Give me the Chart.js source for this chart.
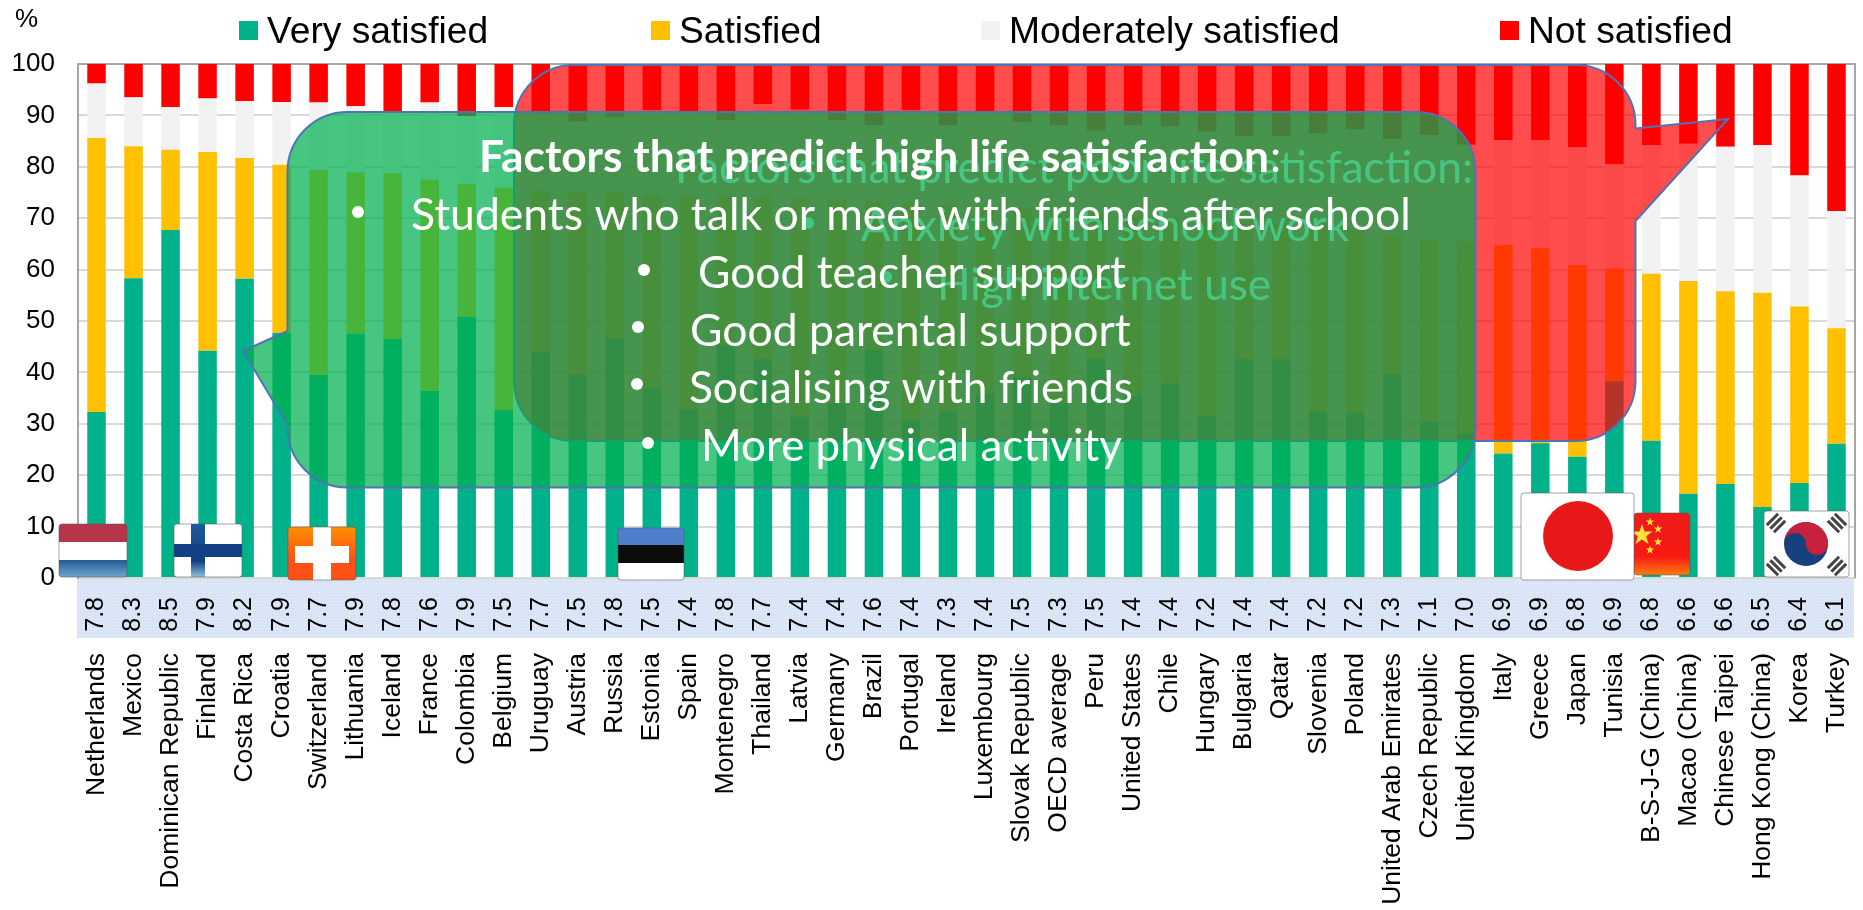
<!DOCTYPE html>
<html>
<head>
<meta charset="utf-8">
<title>Life satisfaction</title>
<script src="https://cdn.jsdelivr.net/npm/chart.js@4/dist/chart.umd.min.js"></script>
<style>
  html, body { margin: 0; padding: 0; background: #fff; }
  canvas { display: block; }
</style>
</head>
<body>
<canvas id="lifeChart" width="1863" height="910"></canvas>
<script>
// Data
const countries = ['Netherlands','Mexico','Dominican Republic','Finland','Costa Rica','Croatia','Switzerland','Lithuania','Iceland','France','Colombia','Belgium','Uruguay','Austria','Russia','Estonia','Spain','Montenegro','Thailand','Latvia','Germany','Brazil','Portugal','Ireland','Luxembourg','Slovak Republic','OECD average','Peru','United States','Chile','Hungary','Bulgaria','Qatar','Slovenia','Poland','United Arab Emirates','Czech Republic','United Kingdom','Italy','Greece','Japan','Tunisia','B-S-J-G (China)','Macao (China)','Chinese Taipei','Hong Kong (China)','Korea','Turkey'];
const lifeScores = ['7.8','8.3','8.5','7.9','8.2','7.9','7.7','7.9','7.8','7.6','7.9','7.5','7.7','7.5','7.8','7.5','7.4','7.8','7.7','7.4','7.4','7.6','7.4','7.3','7.4','7.5','7.3','7.5','7.4','7.4','7.2','7.4','7.4','7.2','7.2','7.3','7.1','7.0','6.9','6.9','6.8','6.9','6.8','6.6','6.6','6.5','6.4','6.1'];
const verySatisfied = [32.3,58.3,67.7,44.2,58.2,47.7,39.5,47.5,46.5,36.4,50.8,32.7,44.0,39.6,46.6,36.9,32.8,45.3,42.6,31.4,34.0,44.4,30.7,32.4,35.9,39.2,34.0,42.6,35.6,37.9,31.5,42.6,42.5,32.4,32.2,39.6,30.5,28.1,24.2,26.2,23.6,38.3,26.7,16.4,18.3,13.8,18.5,26.1];
const satisfied = [53.3,25.7,15.6,38.7,23.5,32.7,39.9,31.4,32.3,41.1,25.9,43.2,31.4,35.6,28.4,37.6,41.4,28.9,31.5,42.5,39.5,28.8,42.2,40.2,36.4,32.8,37.5,28.4,35.0,32.3,38.5,26.9,26.5,36.1,35.8,27.1,35.3,37.4,40.6,38.0,37.3,21.9,32.5,41.4,37.5,41.7,34.3,22.5];
const moderatelySatisfied = [10.6,9.5,8.3,10.4,11.1,12.2,13.1,12.9,12.0,15.0,13.2,15.7,14.9,13.6,14.7,16.5,16.6,14.8,18.1,17.2,15.5,14.9,18.1,15.5,18.4,16.6,16.6,16.0,17.5,17.7,16.8,16.5,17.0,18.0,19.3,18.7,20.4,18.8,20.4,21.0,22.9,20.3,25.0,26.7,28.1,28.7,25.5,22.8];
const notSatisfied = [3.8,6.5,8.4,6.7,7.2,7.4,7.5,8.2,9.2,7.5,10.1,8.4,9.7,11.2,10.3,9.0,9.2,11.0,7.8,8.9,11.0,11.9,9.0,11.9,9.3,11.4,11.9,13.0,11.9,12.1,13.2,14.0,14.0,13.5,12.7,14.6,13.8,15.7,14.8,14.8,16.2,19.5,15.8,15.5,16.1,15.8,21.7,28.6];

const seriesNames = ['Very satisfied','Satisfied','Moderately satisfied','Not satisfied'];
const seriesColors = ['#00b189','#ffc000','#f2f2f2','#ff0000'];
const legendX = [239,651,981,1500];

const FONT = '"Liberation Sans", Arial, sans-serif';
const NOTE_FONT = 'Lato, sans-serif';

const poorTitle = 'Factors that predict poor life satisfaction:';
const poorItems = ['Anxiety with school work','High internet use'];
const highTitle = 'Factors that predict high life satisfaction';
const highItems = ['Students who talk or meet with friends after school','Good teacher support','Good parental support','Socialising with friends','More physical activity'];

// box with rounded corners and a pointer on one side
function calloutPath(ctx, b) {
  const r = b.r;
  ctx.beginPath();
  ctx.moveTo(b.left + r, b.top);
  ctx.lineTo(b.right - r, b.top);
  ctx.arcTo(b.right, b.top, b.right, b.top + r, r);
  if (b.side === 'right') {
    ctx.lineTo(b.right, b.y1);
    ctx.lineTo(b.tipX, b.tipY);
    ctx.lineTo(b.right, b.y2);
  }
  ctx.lineTo(b.right, b.bottom - r);
  ctx.arcTo(b.right, b.bottom, b.right - r, b.bottom, r);
  ctx.lineTo(b.left + r, b.bottom);
  ctx.arcTo(b.left, b.bottom, b.left, b.bottom - r, r);
  if (b.side === 'left') {
    ctx.lineTo(b.left, b.y2);
    ctx.lineTo(b.tipX, b.tipY);
    ctx.lineTo(b.left, b.y1);
  }
  ctx.lineTo(b.left, b.top + r);
  ctx.arcTo(b.left, b.top, b.left + r, b.top, r);
  ctx.closePath();
}

function drawCallout(ctx, b, fill) {
  calloutPath(ctx, b);
  ctx.fillStyle = fill;
  ctx.fill();
  ctx.lineWidth = 2;
  ctx.strokeStyle = '#4f74b5';
  ctx.stroke();
}

function noteLine(ctx, text, x, y, width, font) {
  ctx.font = font;
  ctx.fillStyle = '#fff';
  ctx.textAlign = 'left';
  ctx.textBaseline = 'alphabetic';
  ctx.fillText(text, x, y, width);
}

function bullet(ctx, x, y) {
  ctx.beginPath();
  ctx.arc(x, y, 6, 0, Math.PI * 2);
  ctx.fillStyle = '#fff';
  ctx.fill();
}

function flagFrame(ctx, x, y, w, h, paint) {
  ctx.save();
  ctx.beginPath();
  ctx.roundRect(x, y, w, h, 3);
  ctx.clip();
  paint();
  ctx.restore();
  ctx.beginPath();
  ctx.roundRect(x, y, w, h, 3);
  ctx.lineWidth = 1;
  ctx.strokeStyle = 'rgba(90,90,90,0.55)';
  ctx.stroke();
}

function star(ctx, cx, cy, r) {
  ctx.beginPath();
  for (let i = 0; i < 10; i++) {
    const a = -Math.PI / 2 + i * Math.PI / 5;
    const d = i % 2 ? r * 0.4 : r;
    ctx.lineTo(cx + d * Math.cos(a), cy + d * Math.sin(a));
  }
  ctx.closePath();
  ctx.fillStyle = '#ffe23a';
  ctx.fill();
}

function trigram(ctx, cx, cy, angle) {
  ctx.save();
  ctx.translate(cx, cy);
  ctx.rotate(angle);
  ctx.fillStyle = '#444';
  [-5, 0, 5].forEach((o) => ctx.fillRect(-8, o - 1.5, 16, 3));
  ctx.restore();
}

function drawFlags(ctx) {
  // Netherlands
  flagFrame(ctx, 59, 524, 68, 53, () => {
    ctx.fillStyle = '#b5364a'; ctx.fillRect(59, 524, 68, 18);
    ctx.fillStyle = '#fff'; ctx.fillRect(59, 542, 68, 18);
    const g = ctx.createLinearGradient(0, 560, 0, 577);
    g.addColorStop(0, '#245a96'); g.addColorStop(1, '#6ea6cc');
    ctx.fillStyle = g; ctx.fillRect(59, 560, 68, 17);
  });
  // Finland
  flagFrame(ctx, 174, 524, 68, 53, () => {
    ctx.fillStyle = '#fff'; ctx.fillRect(174, 524, 68, 53);
    const g = ctx.createLinearGradient(0, 524, 0, 577);
    g.addColorStop(0, '#1f5a9a'); g.addColorStop(0.7, '#123f85'); g.addColorStop(1, '#8fc0d8');
    ctx.fillStyle = g; ctx.fillRect(191, 524, 14, 53);
    ctx.fillStyle = '#123f85'; ctx.fillRect(174, 544, 68, 13);
  });
  // Switzerland
  flagFrame(ctx, 288, 527, 68, 53, () => {
    const g = ctx.createLinearGradient(0, 527, 0, 560);
    g.addColorStop(0, '#ff8f00'); g.addColorStop(1, '#ff5015');
    ctx.fillStyle = g; ctx.fillRect(288, 527, 68, 53);
    ctx.fillStyle = '#fff';
    ctx.fillRect(313, 527, 18, 53);
    ctx.fillRect(295, 546, 54, 17);
  });
  // Estonia
  flagFrame(ctx, 618, 528, 66, 52, () => {
    ctx.fillStyle = '#4f7fcc'; ctx.fillRect(618, 528, 66, 17);
    ctx.fillStyle = '#0c0c0c'; ctx.fillRect(618, 545, 66, 18);
    ctx.fillStyle = '#fff'; ctx.fillRect(618, 563, 66, 17);
  });
  // China sits behind Japan
  flagFrame(ctx, 1634, 513, 56, 62, () => {
    const g = ctx.createLinearGradient(0, 513, 0, 575);
    g.addColorStop(0, '#ee1c1c'); g.addColorStop(0.7, '#f81a12'); g.addColorStop(1, '#ff7a10');
    ctx.fillStyle = g; ctx.fillRect(1634, 513, 56, 62);
    star(ctx, 1642, 535, 11);
    star(ctx, 1650, 522, 4.5);
    star(ctx, 1658, 529, 4.5);
    star(ctx, 1658, 542, 4.5);
    star(ctx, 1650, 550, 4.5);
  });
  // Japan
  flagFrame(ctx, 1521, 493, 113, 87, () => {
    ctx.fillStyle = '#fff'; ctx.fillRect(1521, 493, 113, 87);
    ctx.beginPath();
    ctx.arc(1578, 536, 35, 0, Math.PI * 2);
    ctx.fillStyle = '#e81818';
    ctx.fill();
  });
  // Korea
  flagFrame(ctx, 1764, 511, 85, 66, () => {
    ctx.fillStyle = '#fff'; ctx.fillRect(1764, 511, 85, 66);
    const cx = 1806, cy = 544, r = 22;
    ctx.beginPath(); ctx.arc(cx, cy, r, 0, Math.PI * 2);
    ctx.fillStyle = '#17407f'; ctx.fill();
    ctx.beginPath(); ctx.arc(cx, cy, r, Math.PI, 0);
    ctx.arc(cx + r / 2, cy, r / 2, 0, Math.PI, false);
    ctx.arc(cx - r / 2, cy, r / 2, 0, Math.PI, true);
    ctx.fillStyle = '#c8203f'; ctx.fill();
    trigram(ctx, 1776, 523, -Math.PI / 4);
    trigram(ctx, 1837, 523, Math.PI / 4);
    trigram(ctx, 1776, 566, Math.PI / 4);
    trigram(ctx, 1837, 566, -Math.PI / 4);
  });
}

// the light stipple of the score band
function bandPattern(ctx) {
  const tile = document.createElement('canvas');
  tile.width = 3;
  tile.height = 3;
  const t = tile.getContext('2d');
  t.fillStyle = '#d8e4f5';
  t.fillRect(0, 0, 3, 3);
  t.fillStyle = '#eaf0fa';
  t.fillRect(1, 1, 1, 1);
  return ctx.createPattern(tile, 'repeat');
}

// score band under the axis, and the frame on top and right
const bandPlugin = {
  id: 'band',
  beforeDraw(chart) {
    const { ctx, scales } = chart;
    ctx.fillStyle = bandPattern(ctx);
    ctx.fillRect(scales.x.left - 1, scales.y.bottom + 1, scales.x.width, 59);
  },
  beforeDatasetsDraw(chart) {
    const { ctx, chartArea: a } = chart;
    ctx.strokeStyle = '#a6a6a6';
    ctx.lineWidth = 2;
    ctx.beginPath();
    ctx.moveTo(a.left, a.top);
    ctx.lineTo(a.right, a.top);
    ctx.lineTo(a.right, a.bottom);
    ctx.stroke();
  },
};

// legend has uneven spacing in the original so it is drawn by hand
const headerPlugin = {
  id: 'header',
  afterDraw(chart) {
    const { ctx } = chart;
    ctx.save();
    ctx.textAlign = 'left';
    ctx.textBaseline = 'alphabetic';
    ctx.fillStyle = '#000';
    ctx.font = '26px ' + FONT;
    ctx.fillText('%', 15, 27);
    chart.data.datasets.forEach((ds, i) => {
      ctx.fillStyle = ds.backgroundColor;
      ctx.fillRect(legendX[i], 21, 19, 19);
      ctx.fillStyle = '#000';
      ctx.font = '37.2px ' + FONT;
      ctx.fillText(ds.label, legendX[i] + 28, 43);
    });
    ctx.restore();
  },
};

const notesPlugin = {
  id: 'notes',
  afterDraw(chart) {
    const { ctx } = chart;
    ctx.save();
    drawCallout(ctx, { left: 514, top: 65, right: 1635.5, bottom: 441, r: 60, side: 'right', y1: 128.5, y2: 221, tipX: 1728, tipY: 119 }, 'rgba(255,0,0,0.7)');
    const regular = '44.5px ' + NOTE_FONT;
    noteLine(ctx, poorTitle, 675, 183, 798, regular);
    bullet(ctx, 808, 223);
    noteLine(ctx, poorItems[0], 861, 241, 488, regular);
    bullet(ctx, 886, 277);
    noteLine(ctx, poorItems[1], 937, 300, 334, regular);

    drawCallout(ctx, { left: 287.5, top: 112, right: 1475.5, bottom: 487.5, r: 60, side: 'left', y1: 331, y2: 425, tipX: 243, tipY: 351 }, 'rgba(0,176,80,0.72)');
    const bold = 'bold 44.5px ' + NOTE_FONT;
    noteLine(ctx, highTitle, 479, 172, 790, bold);
    noteLine(ctx, ':', 1270, 172, 13, regular);
    bullet(ctx, 358, 212);
    noteLine(ctx, highItems[0], 411, 230, 1000, regular);
    bullet(ctx, 644, 270);
    noteLine(ctx, highItems[1], 698, 288, 428, regular);
    bullet(ctx, 638, 327);
    noteLine(ctx, highItems[2], 690, 346, 442, regular);
    bullet(ctx, 637, 384);
    noteLine(ctx, highItems[3], 689, 403, 444, regular);
    bullet(ctx, 648, 443);
    noteLine(ctx, highItems[4], 701, 461, 421, regular);

    drawFlags(ctx);
    ctx.restore();
  },
};

const seriesValues = [verySatisfied, satisfied, moderatelySatisfied, notSatisfied];

new Chart(document.getElementById('lifeChart').getContext('2d'), {
  type: 'bar',
  data: {
    labels: countries,
    datasets: seriesNames.map((name, i) => ({
      label: name,
      data: seriesValues[i],
      backgroundColor: seriesColors[i],
      barPercentage: 0.5,
      categoryPercentage: 1,
    })),
  },
  plugins: [bandPlugin, headerPlugin, notesPlugin],
  options: {
    responsive: false,
    animation: false,
    layout: { padding: { top: 64, right: 8, left: 0, bottom: 0 } },
    plugins: { legend: { display: false }, tooltip: { enabled: false } },
    scales: {
      x: {
        stacked: true,
        weight: 2,
        grid: { display: false, drawTicks: false },
        border: { display: false },
        ticks: {
          autoSkip: false, minRotation: 90, maxRotation: 90, padding: 0,
          color: '#000', font: { family: FONT, size: 26.5 },
        },
        afterFit(scale) { scale.height = 257; scale.paddingRight = 0; scale.paddingLeft = 0; },
      },
      scores: {
        type: 'category',
        position: 'bottom',
        weight: 1,
        labels: lifeScores,
        grid: { display: false, drawTicks: false },
        border: { display: true, color: '#d9d9d9', width: 2 },
        ticks: {
          autoSkip: false, minRotation: 90, maxRotation: 90, padding: 19,
          color: '#000', font: { family: FONT, size: 25 },
        },
        afterFit(scale) { scale.height = 75; scale.paddingRight = 0; scale.paddingLeft = 0; },
      },
      y: {
        stacked: true,
        min: 0,
        max: 100,
        grid: { color: '#d9d9d9', lineWidth: 2, drawTicks: false },
        border: { color: '#a6a6a6', width: 2 },
        ticks: {
          stepSize: 10, padding: 23,
          color: '#000', font: { family: FONT, size: 26 },
        },
        afterFit(scale) { scale.width = 78; },
      },
    },
  },
});
</script>
</body>
</html>
